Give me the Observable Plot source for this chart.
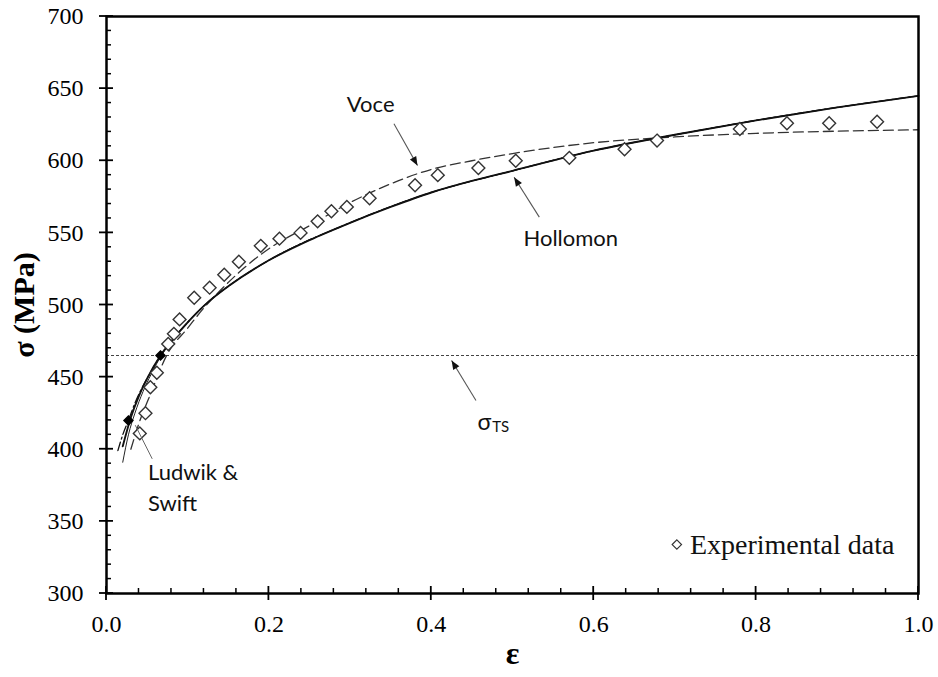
<!DOCTYPE html>
<html><head><meta charset="utf-8">
<script src="https://cdn.jsdelivr.net/npm/d3@7"></script>
<script src="https://cdn.jsdelivr.net/npm/@observablehq/plot@0.6"></script>
<style>body{margin:0;background:#fff}#chart{width:938px;height:677px}</style>
</head><body><div id="chart"></div>
<script>
// Experimental data (diamonds)
const expStrain = [0.041,0.048,0.054,0.062,0.076,0.083,0.090,0.108,0.127,0.145,0.163,0.190,0.213,0.239,0.260,0.277,0.296,0.324,0.380,0.408,0.458,0.504,0.570,0.638,0.678,0.780,0.838,0.890,0.949];
const expStress = [411,425,443,453,473,480,490,505,512,521,530,541,546,550,558,565,568,574,583,590,595,600,602,608,614,622,626,626,627];

// Hollomon fit (solid)
const hollomonStrain = [0.02,0.03,0.04,0.05,0.0665,0.08,0.1,0.125,0.15,0.2,0.25,0.3,0.35,0.4,0.45,0.5,0.6,0.7,0.8,0.9,1.0];
const hollomonStress = [402,422,437,449,465,475,488,502,513,531,545,557,568,578,586,593,607,618,628,637,645];

// Ludwik fit (dash-dot)
const ludwikStrain = [0.014,0.02,0.027,0.035,0.045,0.055,0.0665,0.08,0.1,0.125,0.15,0.2,0.3,0.4,0.5,0.6,0.7,0.8,0.9,1.0];
const ludwikStress = [399,410,420,432,444,454,465,475,488,502,513,531,557,578,593,607,618,628,637,645];

// Swift fit (thin solid)
const swiftStrain = [0.02,0.027,0.035,0.045,0.055,0.0665,0.08,0.1,0.125,0.15,0.2,0.3,0.4,0.5,0.6,0.7,0.8,0.9,1.0];
const swiftStress = [391,410,425,440,452,464,475,488,502,513,531,557,578,593,607,618,628,637,645];

// Voce fit (dashed)
const voceStrain = [0.03,0.04,0.054,0.074,0.1,0.12,0.14,0.17,0.2,0.25,0.3,0.35,0.4,0.45,0.5,0.6,0.7,0.8,0.9,1.0];
const voceStress = [400,418,438,465,484,498,510,526,539,555,571,584,594,600,605,612.5,616.5,619,620.5,621.5];

// Fit anchor points (filled)
const fitStrain = [0.027,0.0665];
const fitStress = [420,465];

// Tensile strength level
const sigmaTS = 465;

// Ticks
const xTicks = [0,0.2,0.4,0.6,0.8,1.0];
const xMinor = [0.04,0.08,0.12,0.16,0.24,0.28,0.32,0.36,0.44,0.48,0.52,0.56,0.64,0.68,0.72,0.76,0.84,0.88,0.92,0.96];
const yTicks = [300,350,400,450,500,550,600,650,700];
const yMinor = [310,320,330,340,360,370,380,390,410,420,430,440,460,470,480,490,510,520,530,540,560,570,580,590,610,620,630,640,660,670,680,690];

// Annotations (data coordinates)
const arrowNames = ["Voce","Hollomon","TS"];
const arrowX1 = [0.354,0.533,0.455];
const arrowY1 = [625.6,560.9,433.8];
const arrowX2 = [0.383,0.502,0.425];
const arrowY2 = [596.7,588.6,461.5];
const pointerX = [0.0357,0.0561];
const pointerY = [416.4,393.6];
const labelText = ["Voce","Hollomon","Ludwik &","Swift"];
const labelX = [0.296,0.5135,0.0511,0.0511];
const labelY = [639,545.5,383.5,362.4];
const sigmaLabelX = 0.4569, sigmaLabelY = 418.7;
const tsLabelX = 0.475, tsLabelY = 415.3;
const legendX = 0.7024, legendY = 333.9, legendTextX = 0.7185;

const toPts = (xs, ys) => xs.map((x, i) => ({x, y: ys[i]}));
const expPts = toPts(expStrain, expStress);
const holPts = toPts(hollomonStrain, hollomonStress);
const ludPts = toPts(ludwikStrain, ludwikStress);
const swiPts = toPts(swiftStrain, swiftStress);
const vocPts = toPts(voceStrain, voceStress);
const fitPts = toPts(fitStrain, fitStress);
const arrowRows = arrowNames.map((n, i) => ({x1: arrowX1[i], y1: arrowY1[i], x2: arrowX2[i], y2: arrowY2[i]}));
const labelRows = labelText.map((t, i) => ({t, x: labelX[i], y: labelY[i]}));

const serif = "'Liberation Serif', 'Times New Roman', serif";
const sans = "Lato, 'Open Sans', sans-serif";

const plot = Plot.plot({
  width: 938, height: 677,
  marginLeft: 106, marginRight: 20, marginTop: 16, marginBottom: 84,
  x: {domain: [0, 1]},
  y: {domain: [300, 700]},
  style: {fontFamily: serif, background: "white"},
  marks: [
    Plot.ruleY([sigmaTS], {stroke: "#444", strokeWidth: 1.1, strokeDasharray: "3,2"}),
    Plot.line(vocPts, {x: "x", y: "y", stroke: "#333", strokeWidth: 1.3, strokeDasharray: "10,5", curve: "monotone-x"}),
    Plot.line(swiPts, {x: "x", y: "y", stroke: "#222", strokeWidth: 1, curve: "monotone-x"}),
    Plot.line(ludPts, {x: "x", y: "y", stroke: "#111", strokeWidth: 1.3, strokeDasharray: "9,3,2,3", curve: "monotone-x"}),
    Plot.line(holPts, {x: "x", y: "y", stroke: "#111", strokeWidth: 1.9, curve: "monotone-x"}),
    Plot.dot(expPts, {x: "x", y: "y", symbol: "diamond2", r: 5.8, stroke: "#333", strokeWidth: 1.4, fill: "white"}),
    Plot.dot(fitPts, {x: "x", y: "y", symbol: "diamond2", r: 4, fill: "#000", stroke: "#000"}),
    Plot.link(arrowRows, {x1: "x1", y1: "y1", x2: "x2", y2: "y2", stroke: "#555", strokeWidth: 1.1}),
    Plot.line(toPts(pointerX, pointerY), {x: "x", y: "y", stroke: "#666", strokeWidth: 1}),
    Plot.text(labelRows, {x: "x", y: "y", text: "t", textAnchor: "start", fontSize: 22, fontFamily: sans, fill: "#111"}),
    Plot.text(["σ"], {x: sigmaLabelX, y: sigmaLabelY, textAnchor: "start", fontSize: 23, fontFamily: sans, fill: "#111"}),
    Plot.text(["TS"], {x: tsLabelX, y: tsLabelY, textAnchor: "start", fontSize: 15, fontFamily: sans, fill: "#111"}),
    Plot.dot([0], {x: legendX, y: legendY, symbol: "diamond2", r: 4.2, stroke: "#333", strokeWidth: 1.2, fill: "white"}),
    Plot.text(["Experimental data"], {x: legendTextX, y: legendY, textAnchor: "start", fontSize: 28, fontFamily: serif, fill: "#111"}),
    Plot.axisX({ticks: xTicks, tickSize: 0, tickPadding: 21, tickFormat: d => d.toFixed(1), fontSize: 24, fontFamily: serif, label: null}),
    Plot.axisY({ticks: yTicks, tickSize: 0, tickPadding: 23, fontSize: 24, fontFamily: serif, label: null}),
    Plot.frame({stroke: "#000", strokeWidth: 2.5}),
    Plot.text(["σ (MPa)"], {frameAnchor: "left", textAnchor: "middle", dx: -82, rotate: -90, fontSize: 30, fontWeight: "bold", fontFamily: serif, fill: "#000"}),
    Plot.text(["ε"], {frameAnchor: "bottom", textAnchor: "middle", dy: 70, fontSize: 32, fontWeight: "bold", fontFamily: serif, fill: "#000"})
  ]
});

const svgSel = d3.select(plot);

// tick marks placed through Plot's own scales: minor inward, major crossing the axis
const sx = plot.scale("x"), sy = plot.scale("y");
const x0 = sx.apply(sx.domain[0]), y0 = sy.apply(sy.domain[0]);
const tg = svgSel.append("g").attr("stroke", "#000").attr("fill", "none");
xMinor.forEach(v => { const px = sx.apply(v); tg.append("line").attr("x1", px).attr("x2", px).attr("y1", y0 - 5).attr("y2", y0).attr("stroke-width", 1.5); });
xTicks.forEach(v => { const px = sx.apply(v); tg.append("line").attr("x1", px).attr("x2", px).attr("y1", y0 - 7).attr("y2", y0 + 7).attr("stroke-width", 1.8); });
yMinor.forEach(v => { const py = sy.apply(v); tg.append("line").attr("x1", x0).attr("x2", x0 + 5).attr("y1", py).attr("y2", py).attr("stroke-width", 1.5); });
yTicks.forEach(v => { const py = sy.apply(v); tg.append("line").attr("x1", x0 - 7).attr("x2", x0 + 7).attr("y1", py).attr("y2", py).attr("stroke-width", 1.8); });

// filled arrowheads on the annotation links
const defs = svgSel.append("defs");
defs.append("marker")
  .attr("id", "ahead").attr("viewBox", "0 0 10 10").attr("refX", 10).attr("refY", 5)
  .attr("markerWidth", 10).attr("markerHeight", 9).attr("markerUnits", "userSpaceOnUse").attr("orient", "auto")
  .append("path").attr("d", "M0,1 L10,5 L0,9 Z").attr("fill", "#111");
svgSel.selectAll('g[aria-label="link"] path').attr("marker-end", "url(#ahead)");

document.getElementById("chart").appendChild(plot);
</script>
</body></html>
